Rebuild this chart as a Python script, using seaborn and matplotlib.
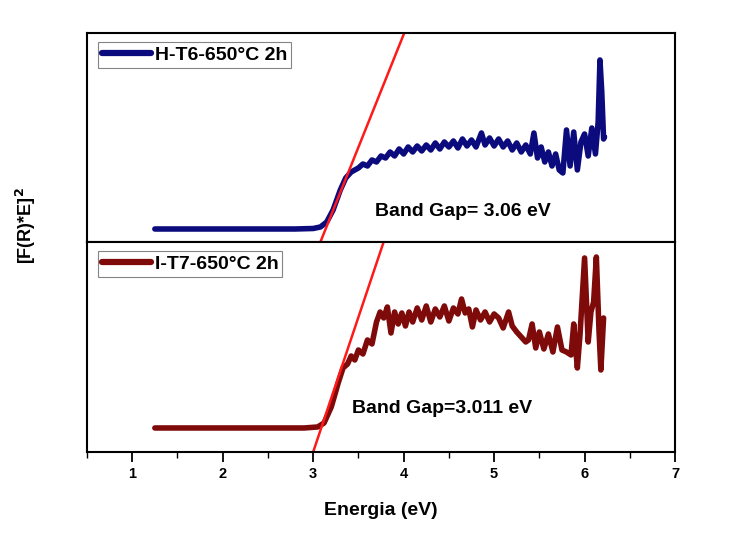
import matplotlib
matplotlib.use("Agg")
import matplotlib.pyplot as plt
import numpy as np
import pandas as pd
import seaborn as sns
from matplotlib.ticker import MultipleLocator

# energy (eV) and [F(R)*E]^2 (a.u.)
e_top = [1.25, 2.0, 2.8, 3.0, 3.08, 3.15, 3.22, 3.3, 3.36, 3.42, 3.5, 3.55, 3.6, 3.65,
         3.7, 3.75, 3.8, 3.85, 3.9, 3.95, 4.0, 4.05, 4.1, 4.15, 4.2, 4.25, 4.3, 4.35,
         4.4, 4.45, 4.5, 4.55, 4.6, 4.65, 4.7, 4.75, 4.8, 4.86, 4.9, 4.95, 5.0, 5.05,
         5.1, 5.15, 5.2, 5.25, 5.3, 5.35, 5.4, 5.44, 5.48, 5.52, 5.56, 5.6, 5.64, 5.68,
         5.72, 5.76, 5.8, 5.84, 5.88, 5.92, 5.96, 6.0, 6.04, 6.08, 6.12, 6.15, 6.17,
         6.19, 6.21, 6.22]
y_top = [13, 13, 13, 13.5, 15, 20, 32, 52, 64, 70, 74, 78, 76, 82,
         80, 86, 84, 90, 86, 93, 88, 95, 90, 96, 91, 97, 92, 99,
         93, 100, 95, 101, 94, 103, 96, 102, 95, 109, 97, 104, 96, 103,
         95, 101, 92, 99, 90, 97, 88, 109, 84, 95, 80, 90, 76, 88,
         72, 69, 112, 76, 110, 72, 100, 108, 86, 114, 88, 120, 182,
         150, 103, 105]

e_bot = [1.25, 2.0, 2.9, 3.05, 3.12, 3.2, 3.28, 3.33, 3.38, 3.42, 3.46, 3.5, 3.55, 3.6,
         3.65, 3.7, 3.74, 3.78, 3.82, 3.86, 3.9, 3.94, 3.98, 4.02, 4.06, 4.1, 4.15, 4.2,
         4.25, 4.3, 4.35, 4.4, 4.45, 4.5, 4.55, 4.6, 4.64, 4.68, 4.72, 4.76, 4.8, 4.85,
         4.9, 4.95, 5.0, 5.05, 5.1, 5.16, 5.2, 5.25, 5.3, 5.35, 5.38, 5.42, 5.46, 5.5,
         5.55, 5.6, 5.65, 5.7, 5.75, 5.8, 5.85, 5.88, 5.92, 5.95, 6.0, 6.04, 6.07, 6.1,
         6.13, 6.16, 6.18, 6.21]
y_bot = [24, 24, 24, 25, 29, 45, 70, 84, 88, 96, 92, 102, 98, 112,
         108, 130, 140, 134, 145, 119, 140, 128, 139, 126, 140, 130, 144, 132,
         146, 130, 143, 135, 146, 131, 144, 138, 153, 139, 143, 125, 142, 132,
         140, 130, 138, 134, 124, 140, 126, 120, 115, 110, 112, 128, 104, 120,
         103, 118, 100, 125, 102, 100, 97, 128, 84, 118, 194, 110, 140, 150,
         195, 120, 82, 134]

# tangent lines used for the band gap
fit_top_x = [3.08, 4.02]
fit_top_y = [0, 212]
fit_bot_x = [3.0, 3.79]
fit_bot_y = [0, 213]

labels = ["H-T6-650°C 2h", "I-T7-650°C 2h"]
gaps = ["Band Gap= 3.06 eV", "Band Gap=3.011 eV"]
colors = ["#0b0b7e", "#7e0a0a"]

sns.set_theme(style="white")
plt.rcParams['font.family'] = ['Liberation Sans', 'DejaVu Sans']
plt.rcParams['font.weight'] = 'bold'
plt.rcParams['text.color'] = 'black'
plt.rcParams['axes.labelcolor'] = 'black'
plt.rcParams['xtick.color'] = 'black'

fig = plt.figure(figsize=(7.41, 5.38), dpi=100)
ax1 = fig.add_axes([0.1174, 0.5502, 0.7936, 0.3885])
ax2 = fig.add_axes([0.1174, 0.1599, 0.7936, 0.3903], sharex=ax1)

panels = [(ax1, e_top, y_top, fit_top_x, fit_top_y, 209, (0.49, 0.145)),
          (ax2, e_bot, y_bot, fit_bot_x, fit_bot_y, 210, (0.451, 0.205))]

for i, (ax, ex, ey, fx, fy, ymax, tpos) in enumerate(panels):
    df = pd.DataFrame({"E": ex, "F": ey})
    sns.lineplot(data=df, x="E", y="F", ax=ax, color=colors[i], lw=4,
                 sort=False, estimator=None, label=labels[i])
    ax.plot(fx, fy, color="#ff1a1a", lw=1.8)
    ax.set_ylim(0, ymax)
    ax.set_xlim(0.5, 7)
    ax.set_yticks([])
    ax.set_xlabel("")
    ax.set_ylabel("")
    for s in ax.spines.values():
        s.set_color("black")
        s.set_linewidth(1.5)
    leg = ax.legend(loc="upper left", fontsize=14, frameon=True, fancybox=False,
                    handlelength=2.5, handletextpad=0.2, borderpad=0.2,
                    borderaxespad=0, bbox_to_anchor=(0.019, 0.955))
    leg.get_frame().set_edgecolor("#666666")
    leg.get_frame().set_linewidth(0.8)
    for h in leg.get_lines():
        h.set_linewidth(4.5)
    ax.text(tpos[0], tpos[1], gaps[i], transform=ax.transAxes, fontsize=14,
            fontweight="bold", ha="left", va="center")

ax1.tick_params(axis="x", bottom=False, labelbottom=False)
ax2.xaxis.set_major_locator(MultipleLocator(1))
ax2.xaxis.set_minor_locator(MultipleLocator(0.5))
ax2.tick_params(axis="x", which="major", bottom=True, direction="out", length=7,
                width=1.3, labelsize=10.5, pad=4)
ax2.tick_params(axis="x", which="minor", bottom=True, direction="out", length=4,
                width=1.0)
for t in ax2.get_xticklabels():
    t.set_fontweight("bold")
ax2.set_xlabel("Energia (eV)", fontsize=14, fontweight="bold", labelpad=15)

fig.text(0.035, 0.58, "[F(R)*E]$^\\mathbf{2}$", rotation=90, fontsize=13,
         fontweight="bold", ha="center", va="center")

fig.savefig("out.png", dpi=100)
